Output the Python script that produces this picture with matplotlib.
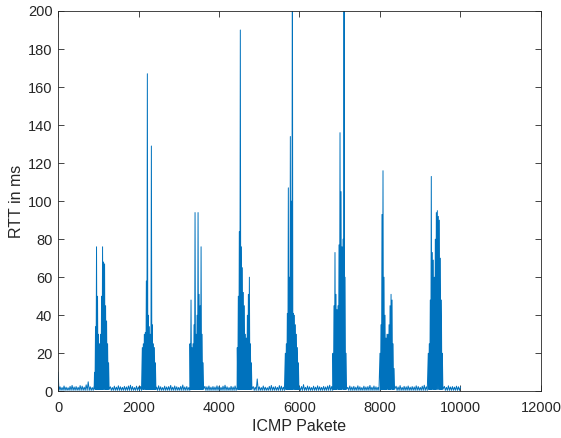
import matplotlib
matplotlib.use('Agg')
import matplotlib.pyplot as plt
import numpy as np

# ---------------- data ----------------
total_packets = 10000
baseline_step = 50
baseline_low = 0.5
baseline_peaks = [
    10.0, 2.4, 2.0, 2.8, 2.2, 1.9, 2.6, 3.1, 2.3, 2.5, 2.1, 3.0, 2.7, 2.2, 3.4, 5.0, 2.4, 2.0, 2.9, 2.3,
    2.6, 2.2, 2.5, 3.5, 2.1, 2.8, 2.4, 2.0, 2.7, 2.2, 2.9, 2.4, 2.1, 2.6, 2.3, 2.8, 3.2, 2.5, 2.0, 2.7,
    2.3, 2.5, 3.0, 2.2, 2.4, 2.1, 2.8, 2.3, 2.6, 2.2, 2.9, 2.4, 2.0, 2.7, 2.3, 2.5, 3.1, 2.2, 2.8, 2.4,
    2.1, 2.6, 3.3, 2.3, 2.5, 2.0, 2.9, 2.2, 2.4, 2.7, 2.3, 3.0, 2.1, 2.6, 2.4, 2.8, 2.2, 2.5, 2.3, 2.9,
    2.5, 2.1, 2.7, 3.2, 2.4, 2.0, 2.6, 2.3, 2.8, 2.2, 2.5, 2.4, 3.0, 2.6, 2.1, 2.9, 2.3, 2.5, 2.2, 6.5,
    2.4, 2.0, 2.8, 2.2, 1.9, 2.6, 3.1, 2.3, 2.5, 2.1, 3.0, 2.7, 2.2, 3.4, 2.6, 2.4, 2.0, 2.9, 2.3, 2.6,
    2.2, 2.5, 3.5, 2.1, 2.8, 2.4, 2.0, 2.7, 2.2, 2.9, 2.4, 2.1, 2.6, 2.3, 2.8, 3.2, 2.5, 2.0, 2.7, 2.3,
    2.5, 3.0, 2.2, 2.4, 2.1, 2.8, 2.3, 2.6, 2.2, 2.9, 2.4, 2.0, 2.7, 2.3, 2.5, 3.1, 2.2, 2.8, 2.4, 2.1,
    2.6, 3.3, 2.3, 2.5, 2.0, 2.9, 2.2, 2.4, 2.7, 2.3, 3.0, 2.1, 2.6, 2.4, 2.8, 2.2, 2.5, 2.3, 2.9, 2.5,
    2.1, 2.7, 3.2, 2.4, 2.0, 2.6, 2.3, 2.8, 2.2, 2.5, 2.4, 3.0, 2.6, 2.1, 2.9, 2.3, 2.5, 2.2, 2.7, 2.4,
    2.2,
]

burst_step = 25
burst_low = 1.0
burst_starts = [907, 2095, 3280, 4455, 5648, 6832, 8000, 9200]
burst_1 = [10, 34, 76, 50, 30, 25, 30, 50, 76, 68, 67, 45, 37, 25, 15]
burst_2 = [23, 25, 30, 31, 58, 167, 40, 34, 30, 129, 35, 25, 23, 15]
burst_3 = [25, 48, 23, 25, 35, 94, 30, 40, 94, 51, 45, 76, 30, 15]
burst_4 = [23, 50, 84, 190, 76, 65, 52, 45, 30, 28, 40, 51, 60, 25, 15]
burst_5 = [20, 25, 41, 107, 60, 134, 100, 250, 41, 40, 35, 30, 23, 15]
burst_6 = [20, 45, 73, 51, 43, 45, 77, 136, 105, 76, 80, 250, 60, 20]
burst_7 = [20, 35, 93, 116, 60, 40, 28, 30, 30, 35, 45, 51, 48, 25, 12]
burst_8 = [20, 25, 48, 113, 73, 69, 60, 80, 94, 95, 92, 90, 70, 48, 20]
bursts = [burst_1, burst_2, burst_3, burst_4, burst_5, burst_6, burst_7, burst_8]

x_ticks = [0, 2000, 4000, 6000, 8000, 10000, 12000]
y_ticks = [0, 20, 40, 60, 80, 100, 120, 140, 160, 180, 200]

# ---------------- build the series ----------------
ranges = [(s, s + len(b) * burst_step) for s, b in zip(burst_starts, bursts)]


def in_burst(x):
    return any(a <= x <= b for a, b in ranges)


pts = []
for i, v in enumerate(baseline_peaks):
    x = i * baseline_step
    if in_burst(x):
        continue
    pts.append((x, v))
    xm = x + baseline_step / 2
    if xm <= total_packets and not in_burst(xm):
        pts.append((xm, baseline_low))
for s, b in zip(burst_starts, bursts):
    for j, v in enumerate(b):
        x = s + j * burst_step
        pts.append((x, v))
        pts.append((x + burst_step / 2, burst_low))
pts.sort(key=lambda p: p[0])
xs = np.array([p[0] for p in pts])
ys = np.array([p[1] for p in pts])

# ---------------- plot ----------------
plt.rcParams['font.family'] = ['Liberation Sans', 'DejaVu Sans']
fig = plt.figure(figsize=(5.61, 4.38), dpi=100)
ax = fig.add_axes([0.1034, 0.1066, 0.8609, 0.8683])
ax.plot(xs, ys, color='#0072BD', linewidth=0.7)

ax.set_xlim(0, 12000)
ax.set_ylim(0, 200)
ax.set_xticks(x_ticks)
ax.set_yticks(y_ticks)
ax.set_xticklabels([str(t) for t in x_ticks])
ax.set_yticklabels([str(t) for t in y_ticks])
ax.tick_params(direction='in', top=True, right=True, length=4, width=0.6,
               colors='#262626', labelsize=10.5)
ax.tick_params(axis='x', pad=7)
ax.tick_params(axis='y', pad=4)
for sp in ax.spines.values():
    sp.set_color('#262626')
    sp.set_linewidth(0.6)
ax.set_xlabel('ICMP Pakete', fontsize=11.5, color='#262626', labelpad=3)
ax.set_ylabel('RTT in ms', fontsize=11.5, color='#262626', labelpad=3)

fig.savefig('out.png', dpi=100)
